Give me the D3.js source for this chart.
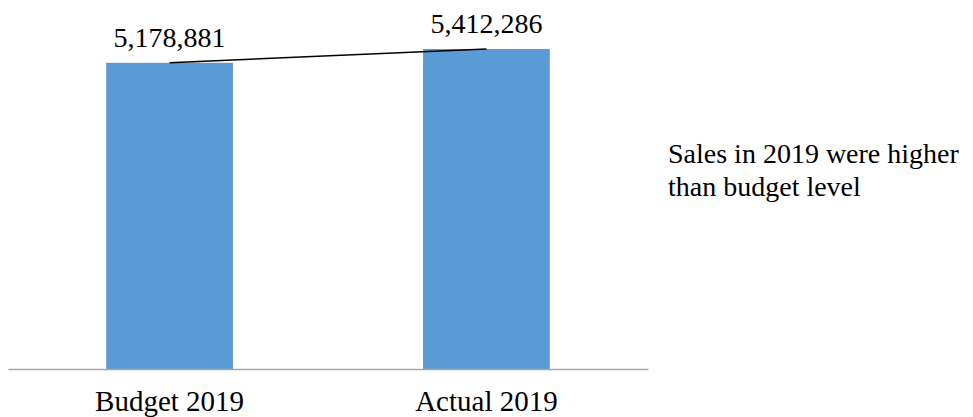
<!DOCTYPE html>
<html>
<head>
<meta charset="utf-8">
<script src="https://cdn.jsdelivr.net/npm/d3@7"></script>
<style>
  body { margin: 0; background: #fff; }
  svg { display: block; font-family: "Liberation Serif", "Times New Roman", serif; }
</style>
</head>
<body>
<div id="chart"></div>
<script>
// datos
const categories = ['Budget 2019', 'Actual 2019'];
const sales = [5178881, 5412286];
const note = ['Sales in 2019 were higher', 'than budget level'];

const COLOR_BAR = '#5B9BD5',
  COLOR_AXIS = '#A6A6A6';

const width = 973, height = 417;
const baseline = 369;

let svg = d3.select('#chart')
  .append('svg')
    .attr('width', width)
    .attr('height', height);

let x = d3.scaleBand()
  .domain(categories)
  .range([8, 648])
  .paddingInner(0.6)
  .paddingOuter(0.31);

let y = d3.scaleLinear()
  .domain([0, d3.max(sales)])
  .range([baseline, 49]);

let data = categories.map(function(c, i) { return {cat: c, value: sales[i]}; });

// barras
svg.append('g')
  .selectAll('rect')
  .data(data)
  .enter()
  .append('rect')
    .attr('x', function(d) { return x(d.cat); })
    .attr('y', function(d) { return y(d.value); })
    .attr('width', x.bandwidth())
    .attr('height', function(d) { return baseline - y(d.value); })
    .attr('fill', COLOR_BAR);

// línea entre barras
let line = d3.line()
  .x(function(d) { return x(d.cat) + x.bandwidth() / 2; })
  .y(function(d) { return y(d.value); });

svg.append('path')
  .datum(data)
  .attr('d', line)
  .attr('fill', 'none')
  .attr('stroke', '#000')
  .attr('stroke-width', 1.5);

// etiquetas de valor
svg.append('g')
  .selectAll('text')
  .data(data)
  .enter()
  .append('text')
    .attr('x', function(d) { return x(d.cat) + x.bandwidth() / 2; })
    .attr('y', function(d) { return y(d.value) - 16; })
    .attr('text-anchor', 'middle')
    .attr('font-size', 28)
    .attr('fill', '#000')
    .text(function(d) { return d3.format(',')(d.value); });

// eje x
let xAxis = function(g) {
  g.call(d3.axisBottom(x).tickSize(0).tickPadding(21));
  g.select('.domain').attr('stroke', COLOR_AXIS).attr('stroke-width', 1.5);
  g.selectAll('text')
    .attr('font-family', '"Liberation Serif", "Times New Roman", serif')
    .attr('font-size', 29)
    .attr('fill', '#000');
};

svg.append('g')
  .attr('transform', 'translate(0,' + baseline + ')')
  .call(xAxis);

// nota
svg.append('g')
  .selectAll('text')
  .data(note)
  .enter()
  .append('text')
    .attr('x', 668)
    .attr('y', function(d, i) { return 163 + i * 33; })
    .attr('font-size', 28)
    .attr('fill', '#000')
    .text(function(d) { return d; });
</script>
</body>
</html>
